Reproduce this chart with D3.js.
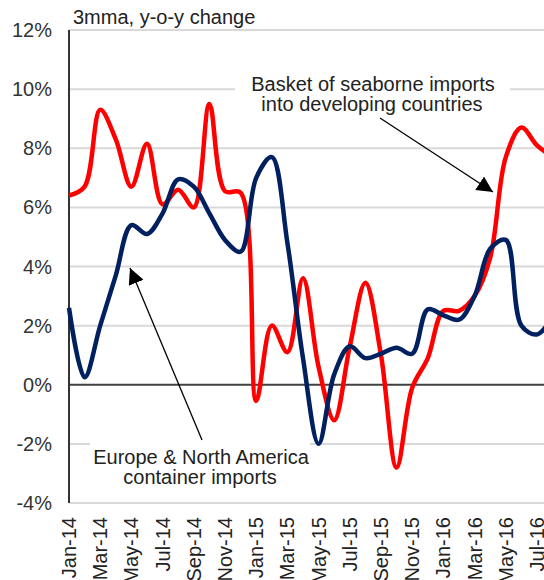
<!DOCTYPE html>
<html>
<head>
<meta charset="utf-8">
<script src="https://cdn.jsdelivr.net/npm/d3@7"></script>
<style>
  body { margin: 0; background: #fff; }
  svg { display: block; font-family: "Liberation Sans", Arial, sans-serif; }
</style>
</head>
<body>
<svg id="chart" width="544" height="580"></svg>
<script>
// monthly, 3mma y-o-y % change
var months = ["Jan-14","Feb-14","Mar-14","Apr-14","May-14","Jun-14","Jul-14","Aug-14","Sep-14","Oct-14","Nov-14","Dec-14",
              "Jan-15","Feb-15","Mar-15","Apr-15","May-15","Jun-15","Jul-15","Aug-15","Sep-15","Oct-15","Nov-15","Dec-15",
              "Jan-16","Feb-16","Mar-16","Apr-16","May-16","Jun-16","Jul-16","Aug-16"];

var basket = [6.4, 6.7, 9.3, 8.3, 6.7, 8.15, 6.1, 6.6, 6.0, 9.5, 6.55, 6.5,
              -0.55, 2.0, 1.1, 3.6, 0.6, -1.2, 1.3, 3.45, 1.0, -2.8, -0.1, 0.9,
              2.5, 2.5, 3.0, 4.3, 7.7, 8.7, 8.1, 7.7];

var containers = [2.6, 0.25, 2.0, 3.7, 5.4, 5.1, 5.8, 6.95, 6.7, 5.8, 4.9, 4.5,
                  7.0, 7.7, 4.8, 0.9, -2.0, 0.35, 1.3, 0.9, 1.05, 1.25, 1.05, 2.55,
                  2.35, 2.2, 3.0, 4.6, 4.9, 2.0, 1.7, 2.3];

var yTicks = [12, 10, 8, 6, 4, 2, 0, -2, -4];
var yTickLabels = ["12%", "10%", "8%", "6%", "4%", "2%", "0%", "-2%", "-4%"];
var xTickLabels = ["Jan-14","Mar-14","May-14","Jul-14","Sep-14","Nov-14","Jan-15","Mar-15",
                   "May-15","Jul-15","Sep-15","Nov-15","Jan-16","Mar-16","May-16","Jul-16"];

var svg = d3.select("#chart");

var left = 69, step = 15.6;
var x = d3.scalePoint()
  .domain(months)
  .range([left, left + step * (months.length - 1)]);

var y = d3.scaleLinear()
  .domain([-4, 12])
  .range([503, 30]);

// arrow head
svg.append("defs").append("marker")
  .attr("id", "arrow")
  .attr("viewBox", "0 0 10 10")
  .attr("refX", 10).attr("refY", 5)
  .attr("markerWidth", 16).attr("markerHeight", 16)
  .attr("markerUnits", "userSpaceOnUse")
  .attr("orient", "auto")
  .append("path")
  .attr("d", "M0,0 L10,5 L0,10 Z")
  .attr("fill", "#000");

// gridlines
svg.append("g").selectAll("line")
  .data(yTicks.filter(d => d !== 0))
  .join("line")
  .attr("x1", left).attr("x2", 544)
  .attr("y1", d => y(d)).attr("y2", d => y(d))
  .attr("stroke", "#d9d9d9")
  .attr("stroke-width", 2);

// y labels
svg.append("g").selectAll("text")
  .data(yTicks)
  .join("text")
  .attr("x", 52)
  .attr("y", d => y(d))
  .attr("dy", "0.35em")
  .attr("text-anchor", "end")
  .attr("font-size", 20)
  .attr("fill", "#333")
  .text((d, i) => yTickLabels[i]);

// x labels, rotated
svg.append("g").selectAll("text")
  .data(xTickLabels)
  .join("text")
  .attr("transform", d => "translate(" + x(d) + ",517) rotate(-90)")
  .attr("dy", "0.35em")
  .attr("text-anchor", "end")
  .attr("font-size", 20)
  .attr("fill", "#222")
  .text(d => d);

// label boxes hide the gridlines underneath
svg.append("rect").attr("x", 235).attr("y", 72).attr("width", 275).attr("height", 48).attr("fill", "#fff");
svg.append("rect").attr("x", 90).attr("y", 438).attr("width", 220).attr("height", 58).attr("fill", "#fff");

// zero line and value axis
svg.append("line")
  .attr("x1", left).attr("x2", 544)
  .attr("y1", y(0)).attr("y2", y(0))
  .attr("stroke", "#404040").attr("stroke-width", 2);
svg.append("line")
  .attr("x1", left).attr("x2", left)
  .attr("y1", y(12)).attr("y2", y(-4))
  .attr("stroke", "#333").attr("stroke-width", 2);

var line = d3.line()
  .x((d, i) => x(months[i]))
  .y(d => y(d))
  .curve(d3.curveCatmullRom.alpha(0.5));

// red underneath, navy on top
svg.append("path")
  .datum(basket)
  .attr("d", line)
  .attr("fill", "none")
  .attr("stroke", "#ff0000")
  .attr("stroke-width", 4.5);

svg.append("path")
  .datum(containers)
  .attr("d", line)
  .attr("fill", "none")
  .attr("stroke", "#002060")
  .attr("stroke-width", 4.5);

// title
svg.append("text")
  .attr("x", 73).attr("y", 24)
  .attr("font-size", 20)
  .attr("fill", "#222")
  .text("3mma, y-o-y change");

// annotations
var notes = svg.append("g").attr("font-size", 20).attr("fill", "#222").attr("text-anchor", "middle");
notes.append("text").attr("x", 373).attr("y", 91).text("Basket of seaborne imports");
notes.append("text").attr("x", 372).attr("y", 111).text("into developing countries");
notes.append("text").attr("x", 201).attr("y", 464).text("Europe & North America");
notes.append("text").attr("x", 200).attr("y", 484).text("container imports");

svg.append("line")
  .attr("x1", 380).attr("y1", 118).attr("x2", 493).attr("y2", 192)
  .attr("stroke", "#000").attr("stroke-width", 1.3)
  .attr("marker-end", "url(#arrow)");
svg.append("line")
  .attr("x1", 202).attr("y1", 440).attr("x2", 130).attr("y2", 268)
  .attr("stroke", "#000").attr("stroke-width", 1.3)
  .attr("marker-end", "url(#arrow)");
</script>
</body>
</html>
